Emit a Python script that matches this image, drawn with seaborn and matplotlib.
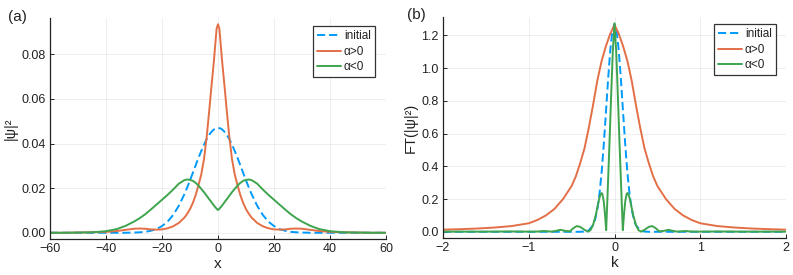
import numpy as np
import pandas as pd
import matplotlib
matplotlib.use("Agg")
import matplotlib.pyplot as plt
from matplotlib.ticker import FormatStrFormatter, FixedLocator
import seaborn as sns

# ---------------- data ----------------
labels = ["initial", "α>0", "α<0"]
colors = ["#009AFA", "#E36F47", "#3EA44E"]

# panel (a): |psi|^2 versus x
x_a = [-60, -55, -50, -45, -40, -36, -33, -30, -28, -26, -24, -22, -20, -18, -16, -14,
       -12, -11, -10, -9, -8, -7, -6, -5, -4, -3, -2.5, -2, -1.5, -1, -0.5, 0,
       0.5, 1, 1.5, 2, 2.5, 3, 4, 5, 6, 7, 8, 9, 10, 11, 12, 14, 16, 18, 20, 22,
       24, 26, 28, 30, 33, 36, 40, 45, 50, 55, 60]

a_initial = [0.0, 0.0, 0.0, 0.0, 0.0, 0.0, 0.0, 0.0001, 0.0002, 0.0004, 0.0009, 0.0016,
             0.0030, 0.0050, 0.0080, 0.0121, 0.0173, 0.0203, 0.0235, 0.0268, 0.0302,
             0.0335, 0.0366, 0.0395, 0.0421, 0.0442, 0.0450, 0.0457, 0.0463, 0.0467,
             0.0469, 0.0470,
             0.0469, 0.0467, 0.0463, 0.0457, 0.0450, 0.0442, 0.0421, 0.0395, 0.0366,
             0.0335, 0.0302, 0.0268, 0.0235, 0.0203, 0.0173, 0.0121, 0.0080, 0.0050,
             0.0030, 0.0016, 0.0009, 0.0004, 0.0002, 0.0001, 0.0, 0.0, 0.0, 0.0, 0.0,
             0.0, 0.0]

a_pos = [0.0, 0.0, 0.0001, 0.0002, 0.0004, 0.0008, 0.0013, 0.0018, 0.0019, 0.0018,
         0.0015, 0.0014, 0.0015, 0.0020, 0.0029, 0.0044, 0.0068, 0.0085, 0.0106,
         0.0133, 0.0168, 0.0212, 0.0260, 0.0330, 0.0435, 0.0565, 0.0635, 0.0700,
         0.0765, 0.0840, 0.0915, 0.0935,
         0.0915, 0.0840, 0.0765, 0.0700, 0.0635, 0.0565, 0.0435, 0.0330, 0.0260,
         0.0212, 0.0168, 0.0133, 0.0106, 0.0085, 0.0068, 0.0044, 0.0029, 0.0020,
         0.0015, 0.0014, 0.0015, 0.0018, 0.0019, 0.0018, 0.0013, 0.0008, 0.0004,
         0.0002, 0.0001, 0.0, 0.0]

a_neg = [0.0, 0.0, 0.0001, 0.0002, 0.0007, 0.0017, 0.0031, 0.0050, 0.0065, 0.0083,
         0.0104, 0.0126, 0.0148, 0.0170, 0.0194, 0.0220, 0.0236, 0.0239, 0.0237,
         0.0233, 0.0224, 0.0212, 0.0197, 0.0182, 0.0165, 0.0148, 0.0140, 0.0131,
         0.0123, 0.0115, 0.0108, 0.0102,
         0.0108, 0.0115, 0.0123, 0.0131, 0.0140, 0.0148, 0.0165, 0.0182, 0.0197,
         0.0212, 0.0224, 0.0233, 0.0237, 0.0239, 0.0236, 0.0220, 0.0194, 0.0170,
         0.0148, 0.0126, 0.0104, 0.0083, 0.0065, 0.0050, 0.0031, 0.0017, 0.0007,
         0.0002, 0.0001, 0.0, 0.0]

# panel (b): FT(|psi|^2) versus k
k_initial = [-2.0, -1.5, -1.0, -0.6, -0.4, -0.35, -0.3, -0.25, -0.225, -0.2, -0.175,
             -0.15, -0.125, -0.1, -0.075, -0.05, -0.025, 0.0, 0.025, 0.05, 0.075, 0.1,
             0.125, 0.15, 0.175, 0.2, 0.225, 0.25, 0.3, 0.35, 0.4, 0.6, 1.0, 1.5, 2.0]
b_initial = [0.0, 0.0, 0.0, 0.0, 0.0, 0.0015, 0.009, 0.040, 0.077, 0.138, 0.233,
             0.365, 0.534, 0.730, 0.930, 1.106, 1.227, 1.270, 1.227, 1.106, 0.930,
             0.730, 0.534, 0.365, 0.233, 0.138, 0.077, 0.040, 0.009, 0.0015, 0.0,
             0.0, 0.0, 0.0, 0.0]

k_pos = [-2.0, -1.8, -1.6, -1.4, -1.2, -1.0, -0.9, -0.8, -0.7, -0.6, -0.5, -0.45, -0.4,
         -0.35, -0.3, -0.25, -0.2, -0.15, -0.1, -0.05, 0.0, 0.05, 0.1, 0.15, 0.2,
         0.25, 0.3, 0.35, 0.4, 0.45, 0.5, 0.6, 0.7, 0.8, 0.9, 1.0, 1.2, 1.4, 1.6,
         1.8, 2.0]
b_pos = [0.013, 0.016, 0.020, 0.026, 0.035, 0.052, 0.072, 0.100, 0.140, 0.200, 0.280,
         0.340, 0.420, 0.510, 0.635, 0.775, 0.925, 1.045, 1.135, 1.210, 1.265, 1.210,
         1.135, 1.045, 0.925, 0.775, 0.635, 0.510, 0.420, 0.340, 0.280, 0.200, 0.140,
         0.100, 0.072, 0.052, 0.035, 0.026, 0.020, 0.016, 0.013]

k_neg = [-2.0, -1.5, -1.2, -0.95, -0.88, -0.83, -0.78, -0.73, -0.68, -0.63, -0.57, -0.52,
         -0.48, -0.44, -0.4, -0.35, -0.31, -0.28, -0.25, -0.22, -0.2, -0.18, -0.165,
         -0.15, -0.14, -0.125, -0.11, -0.097, -0.08, -0.06, -0.04, -0.02, 0.0,
         0.02, 0.04, 0.06, 0.08, 0.097, 0.11, 0.125, 0.14, 0.15, 0.165, 0.18, 0.2,
         0.22, 0.25, 0.28, 0.31, 0.35, 0.4, 0.44, 0.48, 0.52, 0.57, 0.63, 0.68, 0.73,
         0.78, 0.83, 0.88, 0.95, 1.2, 1.5, 2.0]
b_neg = [0.001, 0.001, 0.002, 0.001, 0.002, 0.005, 0.003, 0.001, 0.006, 0.012, 0.005,
         0.003, 0.022, 0.035, 0.030, 0.012, 0.001, 0.010, 0.042, 0.098, 0.148, 0.198,
         0.226, 0.237, 0.228, 0.185, 0.10, 0.010, 0.24, 0.52, 0.82, 1.10, 1.275,
         1.10, 0.82, 0.52, 0.24, 0.010, 0.10, 0.185, 0.228, 0.237, 0.226, 0.198,
         0.148, 0.098, 0.042, 0.010, 0.001, 0.012, 0.030, 0.035, 0.022, 0.003, 0.005,
         0.012, 0.006, 0.001, 0.003, 0.005, 0.002, 0.001, 0.002, 0.001, 0.001]

# ---------------- tables ----------------
df_a = pd.concat([
    pd.DataFrame({"x": x_a, "y": a_initial, "series": labels[0]}),
    pd.DataFrame({"x": x_a, "y": a_pos, "series": labels[1]}),
    pd.DataFrame({"x": x_a, "y": a_neg, "series": labels[2]}),
], ignore_index=True)
df_b = pd.concat([
    pd.DataFrame({"x": k_initial, "y": b_initial, "series": labels[0]}),
    pd.DataFrame({"x": k_pos, "y": b_pos, "series": labels[1]}),
    pd.DataFrame({"x": k_neg, "y": b_neg, "series": labels[2]}),
], ignore_index=True)

# ---------------- style ----------------
sns.set_theme(style="white")
plt.rcParams['font.family'] = ['Liberation Sans', 'DejaVu Sans']
plt.rcParams['axes.unicode_minus'] = True

palette = dict(zip(labels, colors))
dashes = {labels[0]: (4.2, 2.0), labels[1]: "", labels[2]: ""}

fig = plt.figure(figsize=(7.93, 2.75), dpi=100)
ax1 = fig.add_axes([50 / 793, 1 - 239 / 275, 336 / 793, 221 / 275])
ax2 = fig.add_axes([443 / 793, 1 - 238 / 275, 343 / 793, 221 / 275])


def draw(ax, df, xlim, ylim, xticks, yticks, yfmt, xlabel, ylabel, panel, leg_anchor):
    sns.lineplot(data=df, x="x", y="y", hue="series", style="series",
                 hue_order=labels, style_order=labels, palette=palette,
                 dashes=dashes, linewidth=1.4, estimator=None, sort=True,
                 ax=ax, legend=True)
    ax.set_xlim(*xlim)
    ax.set_ylim(*ylim)
    ax.xaxis.set_major_locator(FixedLocator(xticks))
    ax.yaxis.set_major_locator(FixedLocator(yticks))
    ax.yaxis.set_major_formatter(FormatStrFormatter(yfmt))
    ax.grid(True, color="black", alpha=0.08, linewidth=0.6)
    for s in ["top", "right"]:
        ax.spines[s].set_visible(False)
    for s in ["left", "bottom"]:
        ax.spines[s].set_color("#222222")
        ax.spines[s].set_linewidth(0.9)
    ax.tick_params(axis="both", direction="in", length=3, width=0.7,
                   color="#222222", labelsize=9, labelcolor="#222222", pad=3,
                   left=True, bottom=True)
    ax.set_xlabel(xlabel, fontsize=11, color="#222222", labelpad=1)
    ax.set_ylabel(ylabel, fontsize=10.5, color="#222222", labelpad=3)
    handles, labs = ax.get_legend_handles_labels()
    leg = ax.legend(handles, labs, loc="upper right", bbox_to_anchor=leg_anchor,
                    borderaxespad=0, fontsize=8.5, frameon=True, fancybox=False,
                    framealpha=1, edgecolor="#333333", borderpad=0.35,
                    handlelength=2.0, handletextpad=0.25, labelspacing=0.3)
    leg.get_frame().set_linewidth(0.9)
    for t in leg.get_texts():
        t.set_color("#222222")
    fig.text(panel[1], panel[2], panel[0], fontsize=11, color="#222222",
             ha="left", va="center")


draw(ax1, df_a, (-60, 60), (-0.0028, 0.0963),
     [-60, -40, -20, 0, 20, 40, 60], [0.0, 0.02, 0.04, 0.06, 0.08], "%.2f",
     "x", "|ψ|²", ("(a)", 8 / 793, 1 - 17 / 275),
     (1 - 11 / 336, 1 - 8 / 221))
draw(ax2, df_b, (-2, 2), (-0.038, 1.313),
     [-2, -1, 0, 1, 2], [0.0, 0.2, 0.4, 0.6, 0.8, 1.0, 1.2], "%.1f",
     "k", "FT(|ψ|²)", ("(b)", 407 / 793, 1 - 15 / 275),
     (1 - 10 / 343, 1 - 7 / 221))

fig.savefig("out.png", dpi=100)
